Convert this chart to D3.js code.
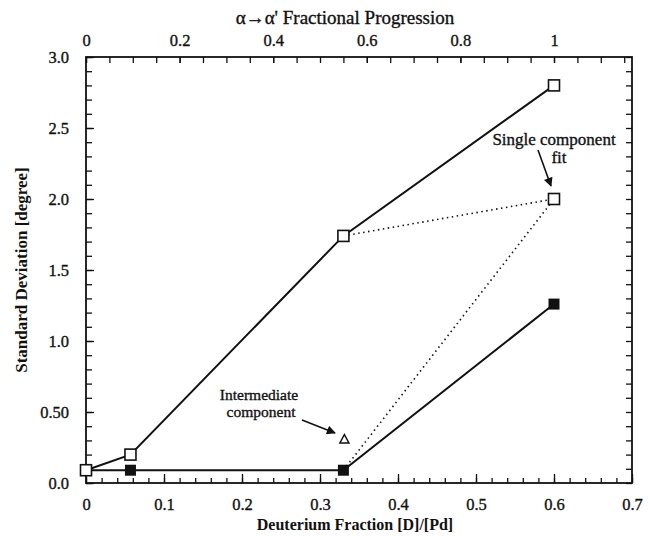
<!DOCTYPE html>
<html>
<head>
<meta charset="utf-8">
<script src="https://cdn.jsdelivr.net/npm/d3@7"></script>
<style>
  html, body { margin: 0; padding: 0; background: #fff; }
  svg { display: block; font-family: "Liberation Serif", "DejaVu Serif", serif; }
  .heavy { stroke: #111; stroke-width: 0.35px; }
</style>
</head>
<body>
<svg id="chart" width="648" height="537"></svg>
<script>
// Deuterium fraction vs. standard deviation of the distribution
const xLabel = "Deuterium Fraction [D]/[Pd]";
const yLabel = "Standard Deviation [degree]";
const topLabel = "α\u2192α' Fractional Progression";

// Two-component fit: broad component (open) and narrow component (filled)
const broadX = [0, 0.057, 0.33, 0.6];
const broadY = [0.09, 0.2, 1.74, 2.8];
const narrowX = [0, 0.057, 0.33, 0.6];
const narrowY = [0.09, 0.09, 0.09, 1.26];
// Single component fit at the highest loading, and the intermediate component
const singleX = [0.6];
const singleY = [2.0];
const interX = [0.33];
const interY = [0.31];
// Dotted links from the 0.33 points to the single component fit
const dotLinks = [[0.33, 1.74, 0.6, 2.0], [0.33, 0.09, 0.6, 2.0]];

const xTicks = [0, 0.1, 0.2, 0.3, 0.4, 0.5, 0.6, 0.7];
const xTickLabels = ["0", "0.1", "0.2", "0.3", "0.4", "0.5", "0.6", "0.7"];
const yTicks = [0, 0.5, 1.0, 1.5, 2.0, 2.5, 3.0];
const yTickLabels = ["0.0", "0.50", "1.0", "1.5", "2.0", "2.5", "3.0"];
const topTicks = [0, 0.2, 0.4, 0.6, 0.8, 1];
const topTickLabels = ["0", "0.2", "0.4", "0.6", "0.8", "1"];

const svg = d3.select("#chart");
const W = 648, H = 537;
const m = { left: 86, right: 16, top: 57, bottom: 54 };
const pw = W - m.left - m.right, ph = H - m.top - m.bottom;

const x = d3.scaleLinear().domain([0, 0.7]).range([m.left, m.left + pw]);
const y = d3.scaleLinear().domain([0, 3.0]).range([m.top + ph, m.top]);
// progression 0..1 corresponds to deuterium fraction 0..0.6
const xTop = d3.scaleLinear().domain([0, 1]).range([x(0), x(0.6)]);

const ink = "#111";
const tickFont = 16.5;
const serif = "Liberation Serif, DejaVu Serif, serif";

// minor ticks
const minorX = d3.range(0, 0.7001, 0.02);
const minorY = d3.range(0, 3.0001, 0.1);
const minorTop = d3.range(0, xTop.invert(x(0.7)) + 1e-6, 0.05);

function styleAxis(g) {
  g.attr("font-family", serif).attr("font-size", tickFont);
  g.select(".domain").remove();
  g.selectAll("line").attr("stroke", ink).attr("stroke-width", 1.3);
  g.selectAll("text").attr("fill", ink).attr("class", "heavy");
}

// bottom
svg.append("g").attr("transform", `translate(0,${y(0)})`)
  .call(d3.axisBottom(x).tickValues(minorX).tickSize(-5).tickFormat(""))
  .call(styleAxis);
svg.append("g").attr("transform", `translate(0,${y(0)})`)
  .call(d3.axisBottom(x).tickValues(xTicks).tickSize(-9).tickPadding(15)
    .tickFormat((d, i) => xTickLabels[i]))
  .call(styleAxis);

// left
svg.append("g").attr("transform", `translate(${x(0)},0)`)
  .call(d3.axisLeft(y).tickValues(minorY).tickSize(-6).tickFormat(""))
  .call(styleAxis);
svg.append("g").attr("transform", `translate(${x(0)},0)`)
  .call(d3.axisLeft(y).tickValues(yTicks).tickSize(-8).tickPadding(17)
    .tickFormat((d, i) => yTickLabels[i]))
  .call(styleAxis);

// right
svg.append("g").attr("transform", `translate(${x(0.7)},0)`)
  .call(d3.axisRight(y).tickValues(minorY).tickSize(-6).tickFormat(""))
  .call(styleAxis);

// top
svg.append("g").attr("transform", `translate(0,${y(3.0)})`)
  .call(d3.axisTop(xTop).tickValues(minorTop).tickSize(-6).tickFormat(""))
  .call(styleAxis);
svg.append("g").attr("transform", `translate(0,${y(3.0)})`)
  .call(d3.axisTop(xTop).tickValues(topTicks).tickSize(-6).tickPadding(11)
    .tickFormat((d, i) => topTickLabels[i]))
  .call(styleAxis);

// frame
svg.append("rect")
  .attr("x", x(0)).attr("y", y(3.0))
  .attr("width", x(0.7) - x(0)).attr("height", y(0) - y(3.0))
  .attr("fill", "none").attr("stroke", ink).attr("stroke-width", 1.8);

// axis titles
svg.append("text").attr("x", 355).attr("y", 530)
  .attr("text-anchor", "middle").attr("font-size", 16).attr("font-weight", "bold")
  .attr("font-family", serif).attr("fill", ink).text(xLabel);
svg.append("text")
  .attr("transform", `translate(27,${(y(0) + y(3)) / 2}) rotate(-90)`)
  .attr("text-anchor", "middle").attr("font-size", 17).attr("font-weight", "bold")
  .attr("font-family", serif).attr("fill", ink).text(yLabel);
svg.append("text").attr("x", 345).attr("y", 24)
  .attr("text-anchor", "middle").attr("font-size", 19).attr("class", "heavy")
  .attr("font-family", serif).attr("fill", ink).text(topLabel);

// dotted links
svg.selectAll("line.dot").data(dotLinks).join("line")
  .attr("x1", d => x(d[0])).attr("y1", d => y(d[1]))
  .attr("x2", d => x(d[2])).attr("y2", d => y(d[3]))
  .attr("stroke", ink).attr("stroke-width", 1.6)
  .attr("stroke-dasharray", "1.5,3.5");

const line = d3.line().x(d => x(d[0])).y(d => y(d[1]));
const broad = broadX.map((v, i) => [v, broadY[i]]);
const narrow = narrowX.map((v, i) => [v, narrowY[i]]);

svg.append("path").attr("d", line(narrow)).attr("fill", "none")
  .attr("stroke", ink).attr("stroke-width", 2);
svg.append("path").attr("d", line(broad)).attr("fill", "none")
  .attr("stroke", ink).attr("stroke-width", 2);

const S = 11;
// filled squares (skip the shared origin point, drawn open)
svg.selectAll("rect.filled").data(narrow.slice(1)).join("rect")
  .attr("x", d => x(d[0]) - S / 2).attr("y", d => y(d[1]) - S / 2)
  .attr("width", S).attr("height", S).attr("fill", ink);

// open squares
const openPts = broad.concat(singleX.map((v, i) => [v, singleY[i]]));
svg.selectAll("rect.open").data(openPts).join("rect")
  .attr("x", d => x(d[0]) - S / 2).attr("y", d => y(d[1]) - S / 2)
  .attr("width", S).attr("height", S).attr("fill", "#fff")
  .attr("stroke", ink).attr("stroke-width", 1.6);

// intermediate component triangle
svg.selectAll("path.tri").data(interX.map((v, i) => [v, interY[i]])).join("path")
  .attr("transform", d => `translate(${x(d[0]) + 1},${y(d[1])})`)
  .attr("d", "M0,-4.5 L4.5,4 L-4.5,4 Z")
  .attr("fill", "#fff").attr("stroke", ink).attr("stroke-width", 1.5);

// annotations
const defs = svg.append("defs");
defs.append("marker").attr("id", "arrow").attr("viewBox", "0 0 10 10")
  .attr("refX", 9).attr("refY", 5).attr("markerWidth", 12).attr("markerHeight", 9)
  .attr("markerUnits", "userSpaceOnUse").attr("orient", "auto")
  .append("path").attr("d", "M0,0 L10,5 L0,10 Z").attr("fill", ink);

svg.append("text").attr("x", 554).attr("y", 145).attr("text-anchor", "middle")
  .attr("font-size", 17).attr("class", "heavy").attr("font-family", serif)
  .attr("fill", ink).text("Single component");
svg.append("text").attr("x", 559).attr("y", 163).attr("text-anchor", "middle")
  .attr("font-size", 17).attr("class", "heavy").attr("font-family", serif)
  .attr("fill", ink).text("fit");
svg.append("line").attr("x1", 538).attr("y1", 150).attr("x2", 551).attr("y2", 186)
  .attr("stroke", ink).attr("stroke-width", 1.6).attr("marker-end", "url(#arrow)");

svg.append("text").attr("x", 259).attr("y", 400).attr("text-anchor", "middle")
  .attr("font-size", 15.5).attr("class", "heavy").attr("font-family", serif)
  .attr("fill", ink).text("Intermediate");
svg.append("text").attr("x", 261).attr("y", 417).attr("text-anchor", "middle")
  .attr("font-size", 15.5).attr("class", "heavy").attr("font-family", serif)
  .attr("fill", ink).text("component");
svg.append("line").attr("x1", 302).attr("y1", 420).attr("x2", 335).attr("y2", 433)
  .attr("stroke", ink).attr("stroke-width", 1.6).attr("marker-end", "url(#arrow)");
</script>
</body>
</html>
